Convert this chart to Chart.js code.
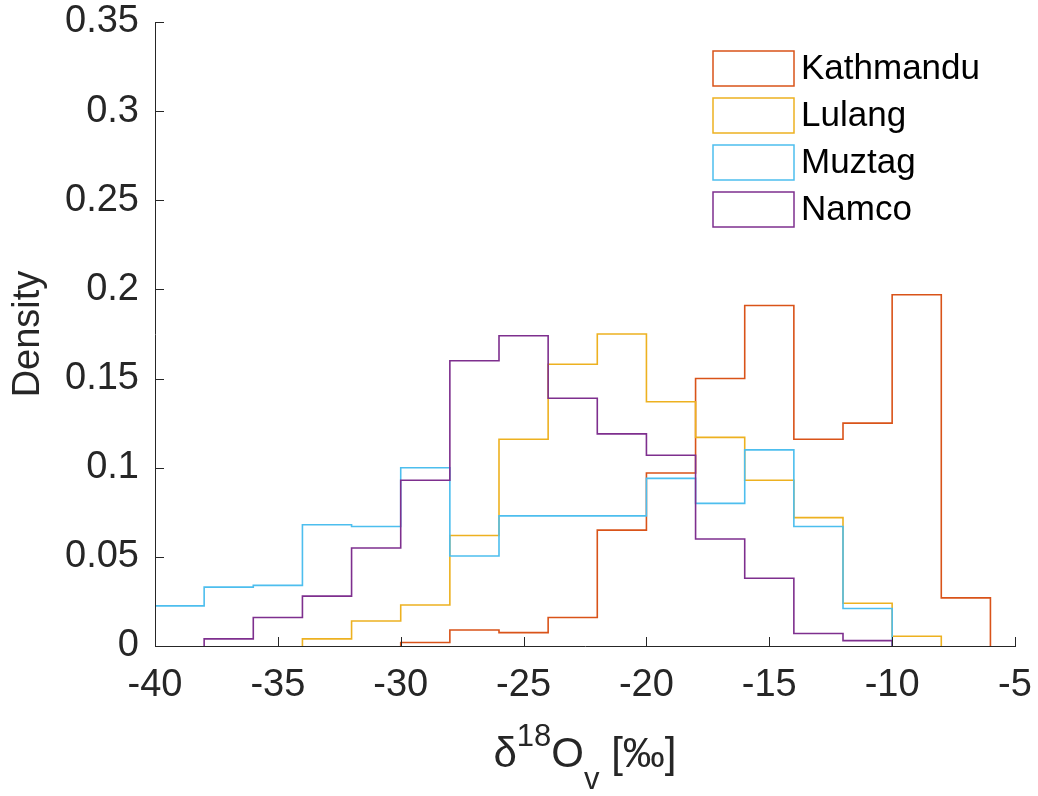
<!DOCTYPE html>
<html>
<head>
<meta charset="utf-8">
<script src="https://cdn.jsdelivr.net/npm/chart.js@4"></script>
<style>
  html, body { margin: 0; padding: 0; background: #fff; }
  #wrap { width: 1038px; height: 796px; }
</style>
</head>
<body>
<div id="wrap"><canvas id="histChart" width="1038" height="796"></canvas></div>
<script>
// bin width is 2 per mil, each series starts at its own first edge
const binWidth = 2;
const seriesNames = ["Kathmandu", "Lulang", "Muztag", "Namco"];
const seriesColors = ["#D95319", "#EDB120", "#4DBEEE", "#7E2F8E"];
const firstEdges = [-30, -34, -40, -38];

const kathmandu = [0.002, 0.009, 0.0075, 0.016, 0.065, 0.097, 0.150, 0.191, 0.116, 0.125, 0.197, 0.027];
const lulang = [0.004, 0.014, 0.023, 0.062, 0.116, 0.158, 0.175, 0.137, 0.117, 0.093, 0.072, 0.024, 0.0055];
const muztag = [0.0225, 0.033, 0.034, 0.068, 0.067, 0.100, 0.0505, 0.073, 0.073, 0.073, 0.094, 0.080, 0.110, 0.067, 0.021];
const namco = [0.004, 0.016, 0.028, 0.055, 0.093, 0.160, 0.174, 0.139, 0.119, 0.107, 0.060, 0.038, 0.007, 0.003];
const seriesValues = [kathmandu, lulang, muztag, namco];

const xTickStep = 5;
const yTickStep = 0.05;
const axisColor = "#262626";
const fontFamily = '"Liberation Sans", Arial, Helvetica, sans-serif';

// turn bin values into stair points (up at first edge, down at last edge)
function stairPoints(start, values) {
  const pts = [{ x: start, y: 0 }];
  values.forEach((v, i) => pts.push({ x: start + i * binWidth, y: v }));
  pts.push({ x: start + values.length * binWidth, y: 0 });
  return pts;
}

const datasets = seriesNames.map((name, i) => ({
  label: name,
  data: stairPoints(firstEdges[i], seriesValues[i]),
  borderColor: seriesColors[i],
  borderWidth: 1.6,
  pointRadius: 0,
  fill: false,
  stepped: true,
  order: seriesNames.length - i,
}));

// inward tick marks like matlab
const inwardTicks = {
  id: "inwardTicks",
  afterDraw(chart) {
    const { ctx, chartArea } = chart;
    const xs = chart.scales.x, ys = chart.scales.y;
    ctx.save();
    ctx.strokeStyle = axisColor;
    ctx.lineWidth = 1;
    ctx.beginPath();
    xs.ticks.forEach((t) => {
      const px = Math.round(xs.getPixelForValue(t.value)) + 0.5;
      ctx.moveTo(px, chartArea.bottom);
      ctx.lineTo(px, chartArea.bottom - 9);
    });
    ys.ticks.forEach((t) => {
      const py = Math.round(ys.getPixelForValue(t.value)) + 0.5;
      ctx.moveTo(chartArea.left, py);
      ctx.lineTo(chartArea.left + 9, py);
    });
    ctx.stroke();
    ctx.restore();
  },
};

// legend with outlined boxes in the upper right
const boxLegend = {
  id: "boxLegend",
  afterDraw(chart) {
    const { ctx, chartArea } = chart;
    const x0 = chartArea.right - 302;
    const y0 = chartArea.top + 29;
    ctx.save();
    ctx.font = "35px " + fontFamily;
    ctx.textBaseline = "middle";
    ctx.textAlign = "left";
    chart.data.datasets.forEach((ds, i) => {
      const y = y0 + i * 47;
      ctx.fillStyle = "#fff";
      ctx.fillRect(x0, y, 81, 35);
      ctx.strokeStyle = ds.borderColor;
      ctx.lineWidth = 1.5;
      ctx.strokeRect(x0, y, 81, 35);
      ctx.fillStyle = "#000";
      ctx.fillText(ds.label, x0 + 88, y + 18);
    });
    ctx.restore();
  },
};

// x label with super- and subscript
const xLabel = {
  id: "xLabel",
  afterDraw(chart) {
    const { ctx, chartArea } = chart;
    const parts = [
      { t: "δ", size: 42, dy: 0 },
      { t: "18", size: 31, dy: -21 },
      { t: "O", size: 42, dy: 0 },
      { t: "v", size: 31, dy: 22 },
      { t: " [‰]", size: 42, dy: 0 },
    ];
    ctx.save();
    ctx.fillStyle = axisColor;
    ctx.textBaseline = "alphabetic";
    ctx.textAlign = "left";
    let total = 0;
    parts.forEach((p) => {
      ctx.font = p.size + "px " + fontFamily;
      p.w = ctx.measureText(p.t).width;
      total += p.w;
    });
    let x = (chartArea.left + chartArea.right) / 2 - total / 2;
    const base = chartArea.bottom + 121;
    parts.forEach((p) => {
      ctx.font = p.size + "px " + fontFamily;
      ctx.fillText(p.t, x, base + p.dy);
      x += p.w;
    });
    ctx.restore();
  },
};

new Chart(document.getElementById("histChart"), {
  type: "line",
  data: { datasets },
  options: {
    responsive: false,
    animation: false,
    layout: { padding: { top: 22, right: 23, left: 0, bottom: 0 } },
    plugins: {
      legend: { display: false },
      tooltip: { enabled: false },
    },
    scales: {
      x: {
        type: "linear",
        min: -40,
        max: -5,
        afterFit: (s) => { s.height = 150; s.paddingLeft = 0; s.paddingRight = 0; },
        ticks: {
          stepSize: xTickStep,
          color: axisColor,
          font: { family: fontFamily, size: 38 },
          padding: 17,
          maxRotation: 0,
        },
        grid: { drawOnChartArea: false, drawTicks: false },
        border: { display: true, color: axisColor, width: 1, z: 1 },
      },
      y: {
        min: 0,
        max: 0.35,
        afterFit: (s) => { s.width = 155; s.paddingTop = 0; s.paddingBottom = 0; },
        ticks: {
          stepSize: yTickStep,
          color: axisColor,
          font: { family: fontFamily, size: 38 },
          padding: 16,
          callback: (v) => String(Number(v.toFixed(2))),
        },
        grid: { drawOnChartArea: false, drawTicks: false },
        border: { display: true, color: axisColor, width: 1, z: 1 },
        title: {
          display: true,
          text: "Density",
          color: axisColor,
          font: { family: fontFamily, size: 38 },
          padding: { top: 6, bottom: 0 },
        },
      },
    },
  },
  plugins: [inwardTicks, boxLegend, xLabel],
});
</script>
</body>
</html>
